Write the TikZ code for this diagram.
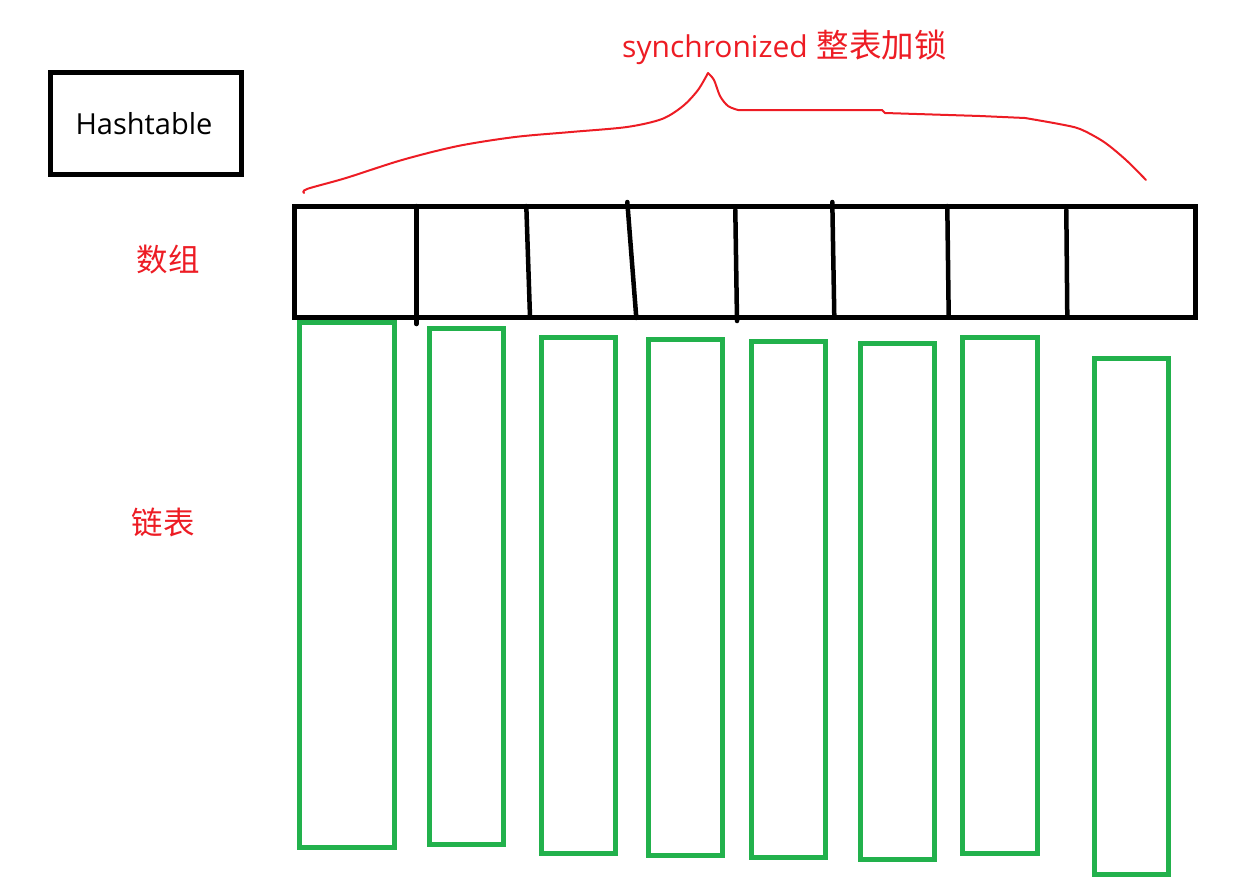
\documentclass[tikz,border=0pt]{standalone}
\usepackage{fontspec}
\setmainfont{Open Sans}
\newfontfamily\cjk{Noto Sans CJK SC}
\definecolor{pgreen}{HTML}{22B14C}
\definecolor{pred}{HTML}{ED1C24}
\tikzset{
  arrline/.style={line width=5pt, black},
  divline/.style={line width=4.5pt, black, line cap=round},
  listbox/.style={line width=5pt, pgreen},
  redtxt/.style={text=pred, font=\cjk\fontsize{31.5}{36}\selectfont, inner sep=0pt},
  bracel/.style={line width=2pt, pred, line join=round, line cap=round},
}
\begin{document}
\begin{tikzpicture}[x=1pt,y=-1pt]
\useasboundingbox (0,0) rectangle (1246,878);
% Hashtable box
\draw[line width=5pt] (50.5,72.5) rectangle (241.5,174.5);
\node[anchor=base, inner sep=0pt, font=\fontsize{29}{34}\selectfont] (ht) at (144,134) {Hashtable};
% labels
\node[redtxt] (arr) at (168,260) {数组};
\node[redtxt] (lst) at (163,522) {链表};
% title
\node[anchor=base west, inner sep=0pt, text=pred, font=\fontsize{30}{34}\selectfont] (sync) at (622,57) {synchronized\hspace{9pt}{\cjk\fontsize{32.5}{36}\selectfont 整表加锁}};
% brace
\draw[bracel] plot[smooth, tension=0.5] coordinates {(304,193) (307,189) (346,178) (402,160) (458,146) (515,137) (571,132) (627,127) (662,119) (683,106) (698,90) (708,73)};
\draw[bracel] plot[smooth, tension=0.5] coordinates {(708,73) (714,80) (720,96) (728,106) (738,110)};
\draw[bracel] (738,110) -- (882,110) -- (885,113) -- (980,116) -- (1025,118);
\draw[bracel] plot[smooth, tension=0.5] coordinates {(1025,118) (1059,124) (1080,129) (1104,142) (1126,160) (1146,180)};
% array
\draw[arrline] (294.5,206.5) rectangle (1195.5,317.5);
\draw[divline] (416.3,206) -- (416.3,324);
\draw[divline] (526.3,206) -- (530,317);
\draw[divline] (627.3,202) -- (636.3,318);
\draw[divline] (735.3,210) -- (737,321);
\draw[divline] (832.3,202) -- (834.3,317);
\draw[divline] (947.3,206) -- (948.7,317);
\draw[divline] (1066.3,210) -- (1067.3,317);
% linked lists
\draw[listbox] (299.5,322.5) rectangle (394.3,847.5);
\draw[listbox] (429.5,328.5) rectangle (503.5,844.5);
\draw[listbox] (541.5,337.5) rectangle (615.5,853.5);
\draw[listbox] (648.5,339.5) rectangle (722.5,855.5);
\draw[listbox] (751.5,341.5) rectangle (825.5,857.5);
\draw[listbox] (860.5,343.5) rectangle (934.5,859.5);
\draw[listbox] (962.5,337.5) rectangle (1037.5,853.5);
\draw[listbox] (1094.5,358.5) rectangle (1168.5,874.5);
\end{tikzpicture}
\end{document}
